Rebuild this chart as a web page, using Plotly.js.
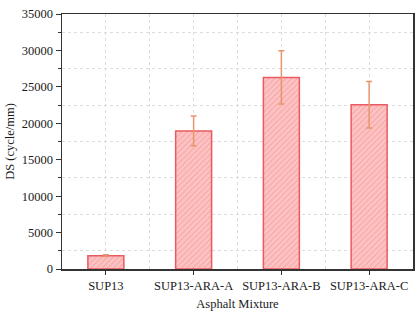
<!DOCTYPE html>
<html>
<head>
<meta charset="utf-8">
<script src="https://cdn.plot.ly/plotly-3.0.1.min.js"></script>
<style>html,body{margin:0;padding:0;background:#fff;}#chart{width:419px;height:316px;}</style>
</head>
<body>
<div id="chart"></div>
<script>
const categories = ["SUP13", "SUP13-ARA-A", "SUP13-ARA-B", "SUP13-ARA-C"];
const dsValues = [1820, 18950, 26300, 22550];
const dsErrors = [120, 2050, 3650, 3200];
const yTickVals = [0, 5000, 10000, 15000, 20000, 25000, 30000, 35000];

const font = {family: "Liberation Serif, 'Times New Roman', serif", size: 12.5, color: "#1a1a1a"};

const bars = {
  type: "bar",
  x: categories,
  y: dsValues,
  width: 0.41,
  marker: {
    color: "#fcc4c4",
    line: {color: "#ea5a60", width: 1.5},
    pattern: {shape: "/", fillmode: "overlay", fgcolor: "#f3898a", size: 4, solidity: 0.3}
  },
  error_y: {type: "data", array: dsErrors, visible: true, color: "#e8956f", thickness: 1.5, width: 3},
  hoverinfo: "skip"
};

const gridHelper = {
  type: "scatter", x: [-0.5, 3.5], y: [0, 35000], xaxis: "x2", yaxis: "y2",
  mode: "markers", marker: {opacity: 0}, hoverinfo: "skip", showlegend: false
};

const layout = {
  width: 419, height: 316,
  margin: {l: 62, r: 6, t: 14, b: 47},
  paper_bgcolor: "#fff", plot_bgcolor: "rgba(0,0,0,0)",
  font: font,
  showlegend: false,
  xaxis: {
    type: "category", range: [-0.5, 3.5],
    showgrid: false, zeroline: false,
    showline: true, linecolor: "#333", linewidth: 1.5, mirror: true,
    ticks: "outside", ticklen: 4, tickwidth: 1, tickcolor: "#333",
    tickfont: font,
    title: {text: "Asphalt Mixture", font: font, standoff: 7}
  },
  yaxis: {
    range: [0, 35000], tickvals: yTickVals, ticktext: yTickVals.map(String),
    showgrid: false, zeroline: false,
    showline: true, linecolor: "#333", linewidth: 1.5, mirror: true,
    ticks: "outside", ticklen: 5, tickwidth: 1, tickcolor: "#333",
    minor: {ticks: "outside", ticklen: 3, tickwidth: 1, tickcolor: "#333", dtick: 2500, tick0: 0},
    tickfont: font,
    title: {text: "DS (cycle/mm)", font: font, standoff: 4}
  },
  xaxis2: {
    overlaying: "x", range: [-0.5, 3.5], tick0: 0, dtick: 0.5,
    showgrid: true, gridcolor: "#dcdcdc", griddash: "dot", gridwidth: 1,
    showticklabels: false, ticks: "", zeroline: false, showline: false
  },
  yaxis2: {
    overlaying: "y", range: [0, 35000], tick0: 2500, dtick: 5000,
    showgrid: true, gridcolor: "#dcdcdc", griddash: "dot", gridwidth: 1,
    showticklabels: false, ticks: "", zeroline: false, showline: false
  }
};

Plotly.newPlot("chart", [gridHelper, bars], layout, {staticPlot: true, displayModeBar: false});
</script>
</body>
</html>
